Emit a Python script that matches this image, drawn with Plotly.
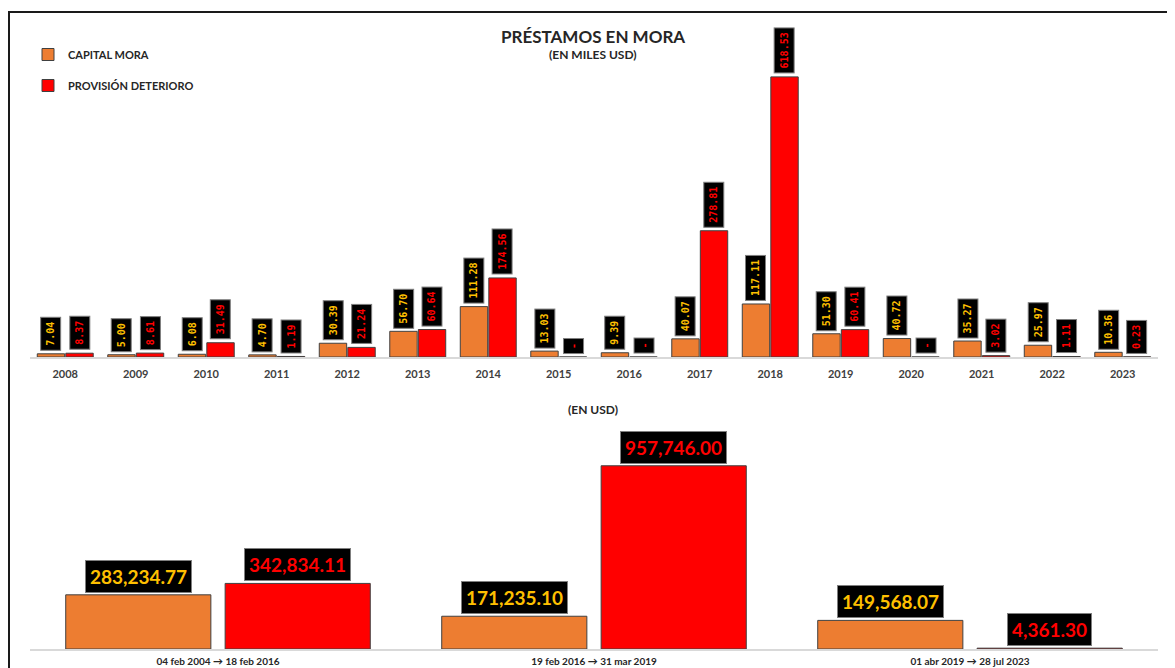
import plotly.graph_objects as go

# yearly figures, in thousands of USD
years = ["2008", "2009", "2010", "2011", "2012", "2013", "2014", "2015",
         "2016", "2017", "2018", "2019", "2020", "2021", "2022", "2023"]
capital_mora = [7.04, 5.00, 6.08, 4.70, 30.39, 56.70, 111.28, 13.03,
                9.39, 40.07, 117.11, 51.30, 40.72, 35.27, 25.97, 10.36]
provision_det = [8.37, 8.61, 31.49, 1.19, 21.24, 60.64, 174.56, 0.0,
                 0.0, 278.81, 618.53, 60.41, 0.0, 3.02, 1.11, 0.23]

# totals per management period, in USD
periods = ["04 feb 2004 → 18 feb 2016", "19 feb 2016 → 31 mar 2019",
           "01 abr 2019 → 28 jul 2023"]
capital_period = [283234.77, 171235.10, 149568.07]
provision_period = [342834.11, 957746.00, 4361.30]

ORANGE = "#ED7D31"
RED = "#FF0000"
GOLD = "#FFC000"
PAGE = 8            # default body margin of the html page
W, H = 1175 - PAGE, 668 - PAGE
BARGAP = 0.19
OFFSET = (1 - BARGAP) / 4  # centre of each bar within its category slot
# bottom chart: wider gap between the two bars of a period
BW2, GAP2 = 0.386, 0.019


def px(pix):
    """Screen column -> paper x."""
    return (pix - PAGE) / W


def py(pix):
    """Screen row -> paper y."""
    return 1 - (pix - PAGE) / H


fig = go.Figure()
bar_line = dict(color="#404040", width=1)
fig.add_trace(go.Bar(x=years, y=capital_mora, name="<b>CAPITAL MORA</b>",
                     marker=dict(color=ORANGE, line=bar_line),
                     legendgroup="a", xaxis="x", yaxis="y"))
fig.add_trace(go.Bar(x=years, y=provision_det,
                     name="<b>PROVISIÓN DETERIORO</b>",
                     marker=dict(color=RED, line=bar_line),
                     legendgroup="b", xaxis="x", yaxis="y"))
fig.add_trace(go.Bar(x=periods, y=capital_period, showlegend=False,
                     width=BW2, offset=-BW2 - GAP2,
                     marker=dict(color=ORANGE, line=bar_line),
                     xaxis="x2", yaxis="y2"))
fig.add_trace(go.Bar(x=periods, y=provision_period, showlegend=False,
                     width=BW2, offset=GAP2,
                     marker=dict(color=RED, line=bar_line),
                     xaxis="x2", yaxis="y2"))

annotations = []
small = dict(family="DejaVu Sans Mono", size=10)
for i, (c, p) in enumerate(zip(capital_mora, provision_det)):
    for val, off, col in ((c, -OFFSET, GOLD), (p, OFFSET, RED)):
        txt = f"<b>{val:.2f}</b>" if val else "<b>-</b>"
        annotations.append(dict(
            x=i + off, y=val, xref="x", yref="y", text=txt, showarrow=False,
            textangle=-90, yanchor="bottom", yshift=3,
            font=dict(color=col, **small), bgcolor="black",
            bordercolor="#7f7f7f", borderwidth=1, borderpad=4))
big = dict(family="Lato", size=19)
off2 = GAP2 + BW2 / 2
for i, (c, p) in enumerate(zip(capital_period, provision_period)):
    for val, off, col in ((c, -off2, GOLD), (p, off2, RED)):
        annotations.append(dict(
            x=i + off, y=val, xref="x2", yref="y2", text=f"<b>{val:,.2f}</b>",
            showarrow=False, yanchor="bottom", yshift=2,
            font=dict(color=col, **big), bgcolor="black",
            bordercolor="#7f7f7f", borderwidth=1, borderpad=4))

title_font = dict(family="Lato", color="#262626")
annotations += [
    dict(x=px(593), y=py(36), xref="paper", yref="paper", showarrow=False,
         yanchor="middle", text="<b>PRÉSTAMOS EN MORA</b>",
         font=dict(size=17, **title_font)),
    dict(x=px(593), y=py(55), xref="paper", yref="paper", showarrow=False,
         yanchor="middle", text="<b>(EN MILES USD)</b>",
         font=dict(size=12, **title_font)),
    dict(x=px(593), y=py(409), xref="paper", yref="paper", showarrow=False,
         yanchor="middle", text="<b>(EN USD)</b>",
         font=dict(size=12, **title_font)),
]

axis_common = dict(showgrid=False, zeroline=False, ticks="",
                   showline=True, linecolor="#D9D9D9", linewidth=2,
                   automargin=False, domain=[px(30), px(1158)])

fig.update_layout(
    width=W, height=H, margin=dict(l=0, r=0, t=0, b=0),
    paper_bgcolor="white", plot_bgcolor="white",
    barmode="group", bargap=BARGAP, bargroupgap=0.04,
    font=dict(family="Lato", color="#404040"),
    xaxis=dict(anchor="y", tickfont=dict(size=11, color="#404040"),
               tickprefix="<b>", ticksuffix="</b>",
               ticklabelstandoff=6, **axis_common),
    yaxis=dict(domain=[py(357), py(40)], range=[0, 700], visible=False,
               anchor="x"),
    xaxis2=dict(anchor="y2", tickfont=dict(size=10, color="#262626"),
                tickprefix="<b>", ticksuffix="</b>",
                ticklabelstandoff=2, range=[-0.5, 2.5], **axis_common),
    yaxis2=dict(domain=[py(649), py(429)], range=[0, 1150000],
                visible=False, anchor="x2"),
    legend=dict(x=px(28), y=py(40), xanchor="left", yanchor="top",
                font=dict(size=11, color="#262626", family="Lato"),
                tracegroupgap=12, bgcolor="rgba(0,0,0,0)",
                traceorder="grouped", itemwidth=30),
    annotations=annotations,
    shapes=[dict(type="rect", xref="paper", yref="paper",
                 x0=px(9), y0=py(12), x1=1.02, y1=-0.02,
                 line=dict(color="#1a1a1a", width=2))],
)

fig.write_html("out.html")
